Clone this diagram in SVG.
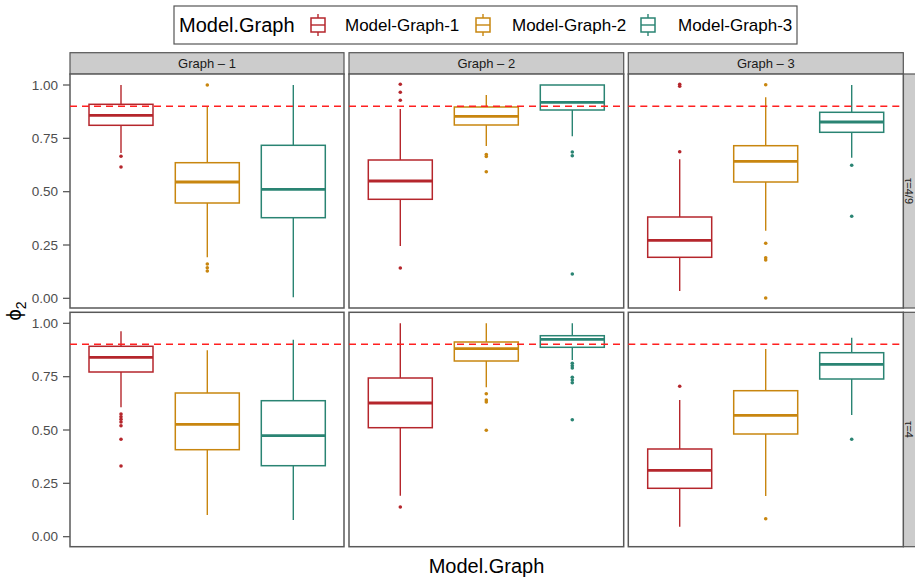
<svg xmlns="http://www.w3.org/2000/svg" width="915" height="579" viewBox="0 0 915 579">
<style>
text{font-family:"Liberation Sans",Arial,sans-serif}
.panel{fill:#fff;stroke:#595959;stroke-width:1.5}
.strip{fill:#cccccc;stroke:#555;stroke-width:1.2}
.st{font-size:13px;fill:#1a1a1a;text-anchor:middle}
.rs{font-size:11px;fill:#1a1a1a;text-anchor:middle}
.tk{font-size:13.5px;fill:#4d4d4d;text-anchor:end}
.tl{stroke:#4d4d4d;stroke-width:1.2}
.ref{stroke:#ff2020;stroke-width:1.5;stroke-dasharray:7 5}
.box{fill:none;stroke-width:1.5}
.wh{stroke-width:1.4}
.med{stroke-width:2.8}
.r{stroke:#B5262C}
.o{stroke:#C8860F}
.t{stroke:#2A8473}
.dr{fill:#B5262C}
.do{fill:#C8860F}
.dt{fill:#2A8473}
.lg{font-size:17px;fill:#000}
</style>

<g id="legend">
<rect x="174" y="6" width="623" height="38" fill="#fff" stroke="#555" stroke-width="1.2"/>
<text x="179" y="32" style="font-size:20px">Model.Graph</text>
<g id="key1"><line class="r wh" x1="318" y1="14" x2="318" y2="36"/><rect class="r box" x="311" y="18" width="14" height="14" style="fill:#fff"/><line class="r wh" x1="311" y1="25" x2="325" y2="25"/></g>
<text class="lg" x="345" y="31">Model-Graph-1</text>
<g id="key2"><line class="o wh" x1="483" y1="14" x2="483" y2="36"/><rect class="o box" x="476" y="18" width="14" height="14" style="fill:#fff"/><line class="o wh" x1="476" y1="25" x2="490" y2="25"/></g>
<text class="lg" x="512" y="31">Model-Graph-2</text>
<g id="key3"><line class="t wh" x1="648" y1="14" x2="648" y2="36"/><rect class="t box" x="641" y="18" width="14" height="14" style="fill:#fff"/><line class="t wh" x1="641" y1="25" x2="655" y2="25"/></g>
<text class="lg" x="678" y="31">Model-Graph-3</text>
</g>

<g id="strips">
<rect class="strip" x="70" y="52.7" width="274" height="21.6"/>
<text class="st" x="207" y="68">Graph – 1</text>
<rect class="strip" x="349" y="52.7" width="274.7" height="21.6"/>
<text class="st" x="486.3" y="68">Graph – 2</text>
<rect class="strip" x="628.3" y="52.7" width="275" height="21.6"/>
<text class="st" x="765.8" y="68">Graph – 3</text>
<rect class="strip" x="903.3" y="74" width="24" height="234"/>
<text class="rs" transform="translate(904.5,191) rotate(90)">τ=4/9</text>
<rect class="strip" x="903.3" y="312.3" width="24" height="234.4"/>
<text class="rs" transform="translate(904.5,429.5) rotate(90)">τ=4</text>
</g>

<g id="axes">
<g id="yaxis-top">
<line class="tl" x1="63" y1="85" x2="70" y2="85"/><text class="tk" x="58" y="89.7">1.00</text>
<line class="tl" x1="63" y1="138.3" x2="70" y2="138.3"/><text class="tk" x="58" y="143">0.75</text>
<line class="tl" x1="63" y1="191.7" x2="70" y2="191.7"/><text class="tk" x="58" y="196.4">0.50</text>
<line class="tl" x1="63" y1="245" x2="70" y2="245"/><text class="tk" x="58" y="249.7">0.25</text>
<line class="tl" x1="63" y1="298.3" x2="70" y2="298.3"/><text class="tk" x="58" y="303">0.00</text>
</g>
<g id="yaxis-bottom">
<line class="tl" x1="63" y1="323.3" x2="70" y2="323.3"/><text class="tk" x="58" y="328">1.00</text>
<line class="tl" x1="63" y1="376.7" x2="70" y2="376.7"/><text class="tk" x="58" y="381.4">0.75</text>
<line class="tl" x1="63" y1="430" x2="70" y2="430"/><text class="tk" x="58" y="434.7">0.50</text>
<line class="tl" x1="63" y1="483.3" x2="70" y2="483.3"/><text class="tk" x="58" y="488">0.25</text>
<line class="tl" x1="63" y1="536.7" x2="70" y2="536.7"/><text class="tk" x="58" y="541.4">0.00</text>
</g>
<text transform="translate(21,311) rotate(-90)" style="font-size:20px;text-anchor:middle">ϕ<tspan style="font-size:14px" dy="5">2</tspan></text>
<text x="486.5" y="573" style="font-size:20px;text-anchor:middle">Model.Graph</text>
</g>

<!-- Top row -->
<g id="panel-tau49-graph1">
<rect class="panel" x="70" y="74" width="274" height="234"/>
<g><line class="r wh" x1="121" y1="85" x2="121" y2="104.3"/><line class="r wh" x1="121" y1="125.3" x2="121" y2="153"/><rect class="r box" x="89" y="104.3" width="64" height="21"/><line class="r med" x1="89" y1="115.3" x2="153" y2="115.3"/><circle class="dr" cx="121" cy="156.3" r="1.8"/><circle class="dr" cx="121" cy="167" r="1.8"/></g>
<g><line class="o wh" x1="207.3" y1="106.3" x2="207.3" y2="162.7"/><line class="o wh" x1="207.3" y1="203" x2="207.3" y2="257.3"/><rect class="o box" x="175.3" y="162.7" width="64" height="40.3"/><line class="o med" x1="175.3" y1="182" x2="239.3" y2="182"/><circle class="do" cx="207.3" cy="85" r="1.8"/><circle class="do" cx="207.3" cy="264" r="1.8"/><circle class="do" cx="207.3" cy="267.7" r="1.8"/><circle class="do" cx="207.3" cy="271" r="1.8"/></g>
<g><line class="t wh" x1="293.3" y1="85" x2="293.3" y2="145.3"/><line class="t wh" x1="293.3" y1="217.7" x2="293.3" y2="297.3"/><rect class="t box" x="261.3" y="145.3" width="64" height="72.4"/><line class="t med" x1="261.3" y1="189.3" x2="325.3" y2="189.3"/></g>
<line class="ref" x1="70" y1="106.3" x2="344" y2="106.3"/>
</g>

<g id="panel-tau49-graph2">
<rect class="panel" x="349" y="74" width="274.7" height="234"/>
<g><line class="r wh" x1="400.3" y1="109" x2="400.3" y2="160"/><line class="r wh" x1="400.3" y1="199.3" x2="400.3" y2="246"/><rect class="r box" x="368.3" y="160" width="64" height="39.3"/><line class="r med" x1="368.3" y1="181" x2="432.3" y2="181"/><circle class="dr" cx="400.3" cy="84.3" r="1.8"/><circle class="dr" cx="400.3" cy="92.3" r="1.8"/><circle class="dr" cx="400.3" cy="100.3" r="1.8"/><circle class="dr" cx="400.3" cy="268" r="1.8"/></g>
<g><line class="o wh" x1="486.3" y1="95" x2="486.3" y2="107"/><line class="o wh" x1="486.3" y1="125" x2="486.3" y2="146"/><rect class="o box" x="454.3" y="107" width="64" height="18"/><line class="o med" x1="454.3" y1="116.3" x2="518.3" y2="116.3"/><circle class="do" cx="486.3" cy="154.5" r="1.8"/><circle class="do" cx="486.3" cy="156.5" r="1.8"/><circle class="do" cx="486.3" cy="171.7" r="1.8"/></g>
<g><line class="t wh" x1="572.3" y1="110" x2="572.3" y2="136.3"/><rect class="t box" x="540.3" y="85" width="64" height="25"/><line class="t med" x1="540.3" y1="102.3" x2="604.3" y2="102.3"/><circle class="dt" cx="572.3" cy="152" r="1.8"/><circle class="dt" cx="572.3" cy="155.7" r="1.8"/><circle class="dt" cx="572.3" cy="274" r="1.8"/></g>
<line class="ref" x1="349" y1="106.3" x2="623.7" y2="106.3"/>
</g>

<g id="panel-tau49-graph3">
<rect class="panel" x="628.3" y="74" width="275" height="234"/>
<g><line class="r wh" x1="679.7" y1="159.3" x2="679.7" y2="217"/><line class="r wh" x1="679.7" y1="257.3" x2="679.7" y2="291"/><rect class="r box" x="647.7" y="217" width="64" height="40.3"/><line class="r med" x1="647.7" y1="240.3" x2="711.7" y2="240.3"/><circle class="dr" cx="679.7" cy="84.3" r="1.8"/><circle class="dr" cx="679.7" cy="86.3" r="1.8"/><circle class="dr" cx="679.7" cy="151.7" r="1.8"/></g>
<g><line class="o wh" x1="765.7" y1="97.3" x2="765.7" y2="145.7"/><line class="o wh" x1="765.7" y1="182" x2="765.7" y2="230.7"/><rect class="o box" x="733.7" y="145.7" width="64" height="36.3"/><line class="o med" x1="733.7" y1="161.3" x2="797.7" y2="161.3"/><circle class="do" cx="765.7" cy="84.7" r="1.8"/><circle class="do" cx="765.7" cy="243.3" r="1.8"/><circle class="do" cx="765.7" cy="257.7" r="1.8"/><circle class="do" cx="765.7" cy="260" r="1.8"/><circle class="do" cx="765.7" cy="298" r="1.8"/></g>
<g><line class="t wh" x1="851.7" y1="85" x2="851.7" y2="112.3"/><line class="t wh" x1="851.7" y1="132.3" x2="851.7" y2="157.7"/><rect class="t box" x="819.7" y="112.3" width="64" height="20"/><line class="t med" x1="819.7" y1="122" x2="883.7" y2="122"/><circle class="dt" cx="851.7" cy="165.2" r="1.8"/><circle class="dt" cx="851.7" cy="216.3" r="1.8"/></g>
<line class="ref" x1="628.3" y1="106.3" x2="903.3" y2="106.3"/>
</g>

<!-- Bottom row -->
<g id="panel-tau4-graph1">
<rect class="panel" x="70" y="312.3" width="274" height="234.4"/>
<g><line class="r wh" x1="121" y1="331.3" x2="121" y2="346.3"/><line class="r wh" x1="121" y1="372" x2="121" y2="407.3"/><rect class="r box" x="89" y="346.3" width="64" height="25.7"/><line class="r med" x1="89" y1="357.3" x2="153" y2="357.3"/><circle class="dr" cx="121" cy="414" r="1.8"/><circle class="dr" cx="121" cy="416.7" r="1.8"/><circle class="dr" cx="121" cy="419.3" r="1.8"/><circle class="dr" cx="121" cy="422" r="1.8"/><circle class="dr" cx="121" cy="425.7" r="1.8"/><circle class="dr" cx="121" cy="439.3" r="1.8"/><circle class="dr" cx="121" cy="466" r="1.8"/></g>
<g><line class="o wh" x1="207.3" y1="350.3" x2="207.3" y2="393"/><line class="o wh" x1="207.3" y1="449.7" x2="207.3" y2="515"/><rect class="o box" x="175.3" y="393" width="64" height="56.7"/><line class="o med" x1="175.3" y1="424.3" x2="239.3" y2="424.3"/></g>
<g><line class="t wh" x1="293.3" y1="339.7" x2="293.3" y2="400.7"/><line class="t wh" x1="293.3" y1="465.7" x2="293.3" y2="520"/><rect class="t box" x="261.3" y="400.7" width="64" height="65"/><line class="t med" x1="261.3" y1="435.7" x2="325.3" y2="435.7"/></g>
<line class="ref" x1="70" y1="344.3" x2="344" y2="344.3"/>
</g>

<g id="panel-tau4-graph2">
<rect class="panel" x="349" y="312.3" width="274.7" height="234.4"/>
<g><line class="r wh" x1="400.3" y1="323.3" x2="400.3" y2="378"/><line class="r wh" x1="400.3" y1="427.7" x2="400.3" y2="495.7"/><rect class="r box" x="368.3" y="378" width="64" height="49.7"/><line class="r med" x1="368.3" y1="403" x2="432.3" y2="403"/><circle class="dr" cx="400.3" cy="507" r="1.8"/></g>
<g><line class="o wh" x1="486.3" y1="323.3" x2="486.3" y2="342"/><line class="o wh" x1="486.3" y1="361" x2="486.3" y2="387.3"/><rect class="o box" x="454.3" y="342" width="64" height="19"/><line class="o med" x1="454.3" y1="348.7" x2="518.3" y2="348.7"/><circle class="do" cx="486.3" cy="393.7" r="1.8"/><circle class="do" cx="486.3" cy="400" r="1.8"/><circle class="do" cx="486.3" cy="402" r="1.8"/><circle class="do" cx="486.3" cy="430.3" r="1.8"/></g>
<g><line class="t wh" x1="572.3" y1="323.3" x2="572.3" y2="335.7"/><line class="t wh" x1="572.3" y1="347.3" x2="572.3" y2="360"/><rect class="t box" x="540.3" y="335.7" width="64" height="11.6"/><line class="t med" x1="540.3" y1="339.3" x2="604.3" y2="339.3"/><circle class="dt" cx="572.3" cy="363.3" r="1.8"/><circle class="dt" cx="572.3" cy="365.7" r="1.8"/><circle class="dt" cx="572.3" cy="368" r="1.8"/><circle class="dt" cx="572.3" cy="377.3" r="1.8"/><circle class="dt" cx="572.3" cy="380" r="1.8"/><circle class="dt" cx="572.3" cy="382.7" r="1.8"/><circle class="dt" cx="572.3" cy="419.7" r="1.8"/></g>
<line class="ref" x1="349" y1="344.3" x2="623.7" y2="344.3"/>
</g>

<g id="panel-tau4-graph3">
<rect class="panel" x="628.3" y="312.3" width="275" height="234.4"/>
<g><line class="r wh" x1="679.7" y1="400" x2="679.7" y2="449"/><line class="r wh" x1="679.7" y1="488.3" x2="679.7" y2="526.7"/><rect class="r box" x="647.7" y="449" width="64" height="39.3"/><line class="r med" x1="647.7" y1="470.3" x2="711.7" y2="470.3"/><circle class="dr" cx="679.7" cy="386.3" r="1.8"/></g>
<g><line class="o wh" x1="765.7" y1="349" x2="765.7" y2="390.7"/><line class="o wh" x1="765.7" y1="434" x2="765.7" y2="496"/><rect class="o box" x="733.7" y="390.7" width="64" height="43.3"/><line class="o med" x1="733.7" y1="415.3" x2="797.7" y2="415.3"/><circle class="do" cx="765.7" cy="518.7" r="1.8"/></g>
<g><line class="t wh" x1="851.7" y1="337.7" x2="851.7" y2="352.7"/><line class="t wh" x1="851.7" y1="379" x2="851.7" y2="415"/><rect class="t box" x="819.7" y="352.7" width="64" height="26.3"/><line class="t med" x1="819.7" y1="364.3" x2="883.7" y2="364.3"/><circle class="dt" cx="851.7" cy="439.3" r="1.8"/></g>
<line class="ref" x1="628.3" y1="344.3" x2="903.3" y2="344.3"/>
</g>
</svg>
